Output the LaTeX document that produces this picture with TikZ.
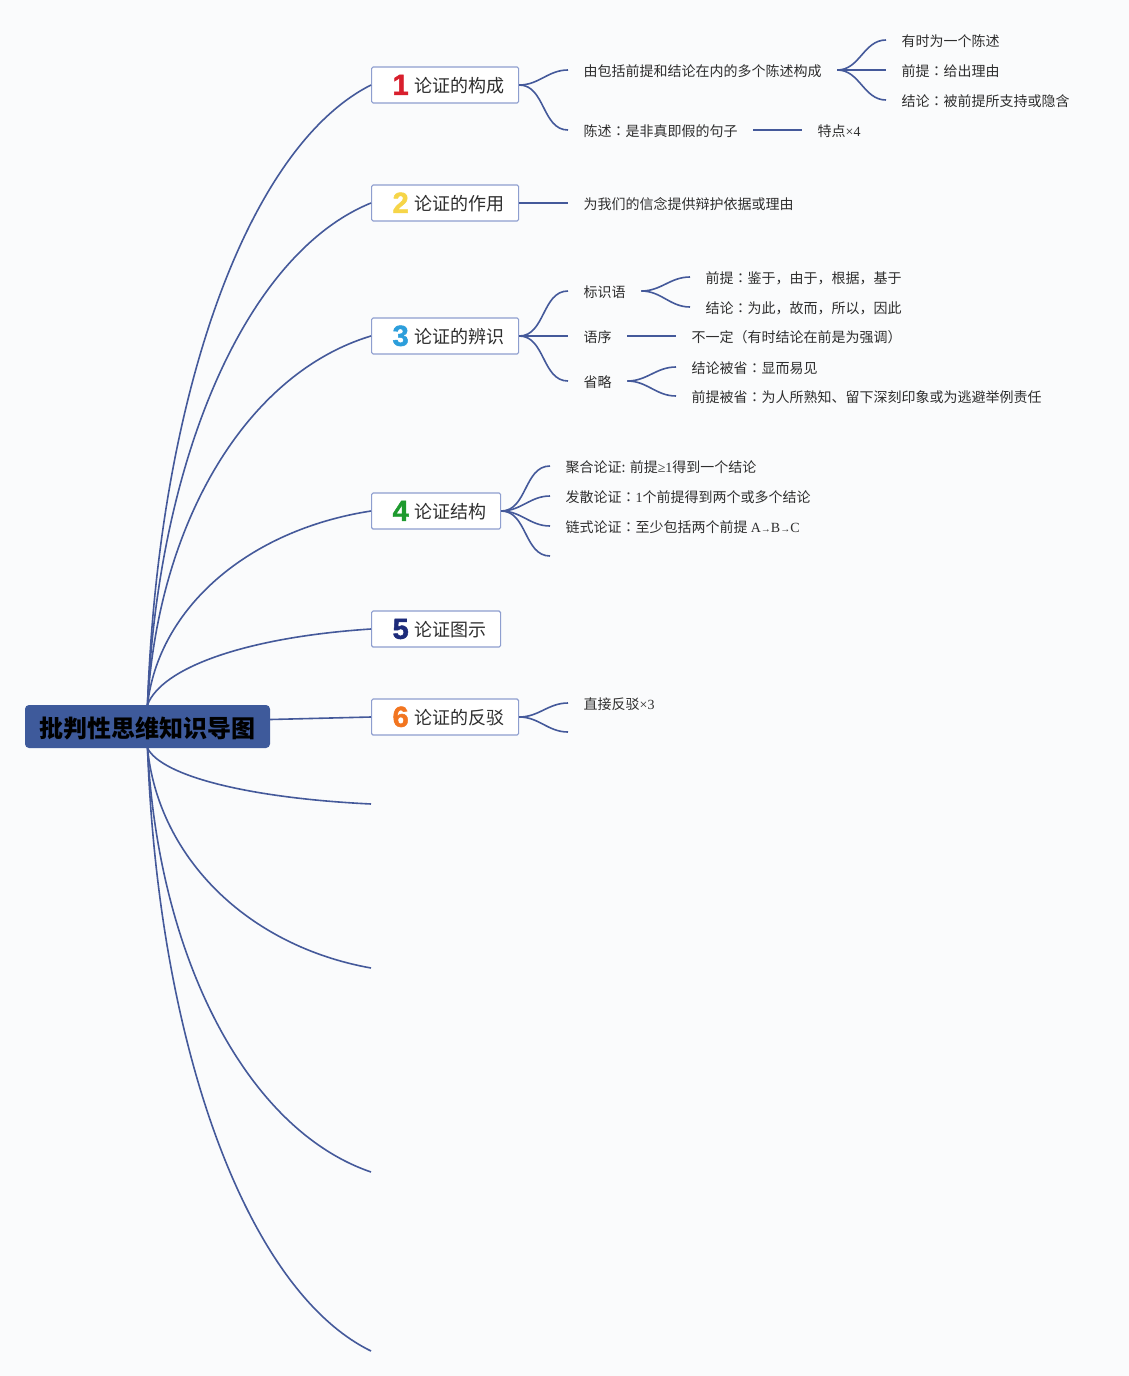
\documentclass[tikz,border=0pt]{standalone}
\usepackage{fontspec}
\setmainfont{Liberation Serif}
\newfontfamily\cjk{Noto Sans CJK SC}
\newfontfamily\cjkjp{Noto Sans CJK JP}
\newfontfamily\digitf[BoldFeatures={FakeBold=1.6}]{Liberation Sans}
\usetikzlibrary{calc}
\definecolor{bg}{HTML}{FAFBFC}
\definecolor{linec}{HTML}{44599A}
\definecolor{rootc}{HTML}{3E5A9B}
\definecolor{boxc}{HTML}{8E9ECF}
\definecolor{txt}{HTML}{2E2E2E}
\definecolor{n1}{HTML}{D81F2D}
\definecolor{n2}{HTML}{F6D548}
\definecolor{n3}{HTML}{2C9EDB}
\definecolor{n4}{HTML}{1E9A2E}
\definecolor{n5}{HTML}{1D2B7A}
\definecolor{n6}{HTML}{F27520}
\newcommand\lat[1]{{\rmfamily #1}}
\newcommand\cc{{\cjkjp ：}}
\newcommand\blab[4]{\makebox[#1pt][l]{\hspace*{21pt}\raisebox{-2pt}{\textcolor{#2}{\digitf\bfseries\fontsize{29}{29}\selectfont #3}}\hspace{6pt}#4}}
\tikzset{
  conn/.style={draw=linec, line width=1.6pt},
  sub/.style={conn, out=0, in=180},
  rootbox/.style={fill=rootc, draw=none, rounded corners=4pt, minimum width=245pt, minimum height=43pt, inner sep=0pt, text height=22pt, text depth=0pt, font=\cjk\bfseries\fontsize{24}{24}\selectfont, text=black},
  branch/.style={draw=boxc, line width=1.2pt, fill=white, rounded corners=1.5pt, minimum height=36pt, inner sep=0pt, text height=17.8pt, text depth=2.2pt, anchor=west, font=\cjk\fontsize{18}{18}\selectfont, text=txt},
  leaf/.style={anchor=west, inner xsep=15.5pt, inner ysep=0pt, text height=12.6pt, text depth=0pt, font=\cjk\fontsize{14}{14}\selectfont, text=txt},
}
\begin{document}
\begin{tikzpicture}[x=1pt,y=-1pt]
\useasboundingbox (0,0) rectangle (1129,1376);
\fill[bg] (0,0) rectangle (1129,1376);

% root and branches
\node[rootbox] (root) at (147.5,726.5) {批判性思维知识导图};
\node[branch] (b1) at (371,85) {\blab{147}{n1}{1}{论证的构成}};
\node[branch] (b2) at (371,203) {\blab{147}{n2}{2}{论证的作用}};
\node[branch] (b3) at (371,336) {\blab{147}{n3}{3}{论证的辨识}};
\node[branch] (b4) at (371,511) {\blab{129}{n4}{4}{论证结构}};
\node[branch] (b5) at (371,629) {\blab{129}{n5}{5}{论证图示}};
\node[branch] (b6) at (371,717) {\blab{147}{n6}{6}{论证的反驳}};
\coordinate (e7) at (371,804);
\coordinate (e8) at (371,968);
\coordinate (e9) at (371,1172);
\coordinate (e10) at (371,1351);

% leaves
\node[leaf] (c11) at (568,70) {由包括前提和结论在内的多个陈述构成};
\node[leaf] (c12) at (568,130) {陈述\cc 是非真即假的句子};
\node[leaf] (g111) at (886,40) {有时为一个陈述};
\node[leaf] (g112) at (886,70) {前提\cc 给出理由};
\node[leaf] (g113) at (886,100) {结论\cc 被前提所支持或隐含};
\node[leaf] (g121) at (802,130) {特点\lat{×4}};
\node[leaf] (c21) at (568,203) {为我们的信念提供辩护依据或理由};
\node[leaf] (c31) at (568,291) {标识语};
\node[leaf] (c32) at (568,336) {语序};
\node[leaf] (c33) at (568,381) {省略};
\node[leaf] (g311) at (690,277) {前提\cc 鉴于，由于，根据，基于};
\node[leaf] (g312) at (690,307) {结论\cc 为此，故而，所以，因此};
\node[leaf] (g321) at (676,336) {不一定（有时结论在前是为强调）};
\node[leaf] (g331) at (676,367) {结论被省\cc 显而易见};
\node[leaf] (g332) at (676,396) {前提被省\cc 为人所熟知、留下深刻印象或为逃避举例责任};
\node[leaf] (c41) at (550,466) {聚合论证: 前提\lat{≥1}得到一个结论};
\node[leaf] (c42) at (550,496) {发散论证\cc\lat{1}个前提得到两个或多个结论};
\node[leaf] (c43) at (550,526) {链式论证\cc 至少包括两个前提 \lat{A{\fontsize{10}{10}\selectfont→}B{\fontsize{10}{10}\selectfont→}C}};
\coordinate (c44) at (550,556);
\node[leaf] (c61) at (568,703) {直接反驳\lat{×3}};
\coordinate (c62) at (568,732);

% root connectors
\draw[conn] (root.north) .. controls (158.5,395) and (248,147) .. (b1.west);
\draw[conn] (root.north) .. controls (158.5,454) and (248,253) .. (b2.west);
\draw[conn] (root.north) .. controls (158.5,520) and (248,373) .. (b3.west);
\draw[conn] (root.north) .. controls (158.5,608) and (248,530) .. (b4.west);
\draw[conn] (root.north) .. controls (162,667) and (248,637) .. (b5.west);
\draw[conn] ($(root.east)+(0,-7)$) -- (b6.west);
\draw[conn] (root.south) .. controls (162,776) and (248,798) .. (e7);
\draw[conn] (root.south) .. controls (158.5,858) and (248,946) .. (e8);
\draw[conn] (root.south) .. controls (158.5,960) and (248,1130) .. (e9);
\draw[conn] (root.south) .. controls (158.5,1049) and (248,1291) .. (e10);

% sub connectors
\draw[sub] (b1.east) to (c11.west);
\draw[sub] (b1.east) to (c12.west);
\draw[sub] (c11.east) to (g111.west);
\draw[sub] (c11.east) to (g112.west);
\draw[sub] (c11.east) to (g113.west);
\draw[conn] (c12.east) -- (g121.west);
\draw[conn] (b2.east) -- (c21.west);
\draw[sub] (b3.east) to (c31.west);
\draw[sub] (b3.east) to (c32.west);
\draw[sub] (b3.east) to (c33.west);
\draw[sub] (c31.east) to (g311.west);
\draw[sub] (c31.east) to (g312.west);
\draw[conn] (c32.east) -- (g321.west);
\draw[sub] (c33.east) to (g331.west);
\draw[sub] (c33.east) to (g332.west);
\draw[sub] (b4.east) to (c41.west);
\draw[sub] (b4.east) to (c42.west);
\draw[sub] (b4.east) to (c43.west);
\draw[sub] (b4.east) to (c44);
\draw[sub] (b6.east) to (c61.west);
\draw[sub] (b6.east) to (c62);
\end{tikzpicture}
\end{document}
